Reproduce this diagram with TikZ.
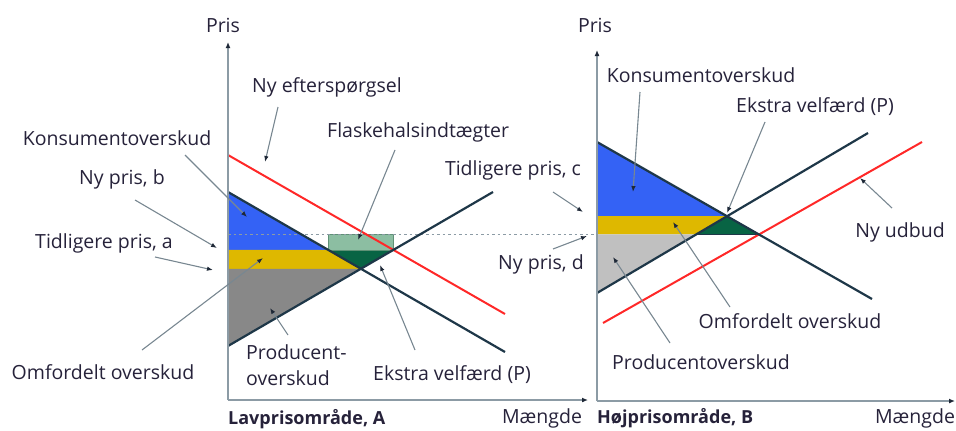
\documentclass[tikz,border=0pt]{standalone}
\usepackage{fontspec}
\setmainfont{Open Sans}
\usetikzlibrary{arrows.meta}
\definecolor{txt}{RGB}{38,34,58}
\definecolor{axisc}{RGB}{140,155,165}
\definecolor{curve}{RGB}{30,55,72}
\definecolor{redc}{RGB}{255,40,40}
\definecolor{bluef}{RGB}{52,98,245}
\definecolor{yellf}{RGB}{222,184,0}
\definecolor{grayL}{RGB}{136,136,136}
\definecolor{grayR}{RGB}{192,192,192}
\definecolor{dgreen}{RGB}{8,100,68}
\definecolor{lgreen}{RGB}{140,190,162}
\definecolor{lgreenb}{RGB}{95,145,118}
\definecolor{ptr}{RGB}{120,135,145}
\definecolor{tipc}{RGB}{30,40,55}
\begin{document}
\begin{tikzpicture}[x=1pt,y=-1pt,
  lbl/.style={text=txt,font=\fontsize{19.5}{26}\selectfont,inner sep=0pt},
  blbl/.style={lbl,font=\fontsize{18}{22}\selectfont\bfseries},
  axisline/.style={draw=axisc,line width=1.5pt,-{Latex[length=6pt,width=5pt,color=tipc]}},
  curveline/.style={draw=curve,line width=2.2pt},
  redline/.style={draw=redc,line width=2pt},
  pointer/.style={draw=ptr,line width=1.1pt,-{Latex[length=6pt,width=4.5pt,color=tipc]}},
  dots/.style={draw=axisc,line width=1.2pt,dash pattern=on 2.5pt off 3pt}]
\useasboundingbox (0,0) rectangle (956,431);
% ---------- left panel geometry
\coordinate (O1) at (228,400);
\coordinate (Y1) at (228,42);
\coordinate (X1) at (588,400);
\coordinate (D1a) at (228,192);
\coordinate (D1b) at (505,352);
\coordinate (S1a) at (228,346);
\coordinate (S1b) at (493,192);
\coordinate (N1a) at (228,155);
\coordinate (N1b) at (505,314);
\coordinate (E1) at (intersection of D1a--D1b and S1a--S1b);
\coordinate (B1) at (intersection of N1a--N1b and S1a--S1b);
\coordinate (Bax) at (O1 |- B1);
\coordinate (Eax) at (O1 |- E1);
\coordinate (DB1) at (intersection of D1a--D1b and Bax--B1);
% ---------- right panel geometry
\coordinate (O2) at (597,401);
\coordinate (Y2) at (597,50);
\coordinate (X2) at (955,401);
\coordinate (D2a) at (597,142);
\coordinate (D2b) at (872,299);
\coordinate (S2a) at (597,293);
\coordinate (S2b) at (868,133);
\coordinate (N2a) at (603,323);
\coordinate (N2b) at (922,142);
\coordinate (E2) at (intersection of D2a--D2b and S2a--S2b);
\coordinate (C2) at (intersection of D2a--D2b and N2a--N2b);
\coordinate (Eax2) at (O2 |- E2);
\coordinate (Cax2) at (O2 |- C2);
\coordinate (SC2) at (intersection of S2a--S2b and Cax2--C2);
\coordinate (Cl) at (O1 |- C2);
% ---------- fills left
\fill[bluef] (D1a) -- (DB1) -- (Bax) -- cycle;
\fill[yellf] (Bax) -- (DB1) -- (E1) -- (Eax) -- cycle;
\fill[grayL] (Eax) -- (E1) -- (S1a) -- cycle;
\filldraw[fill=dgreen,draw=curve,line width=0.8pt] (DB1) -- (B1) -- (E1) -- cycle;
\filldraw[fill=lgreen,draw=lgreenb,line width=0.8pt] (DB1 |- C2) rectangle (B1);
% ---------- fills right
\fill[bluef] (D2a) -- (E2) -- (Eax2) -- cycle;
\fill[yellf] (Eax2) -- (E2) -- (SC2) -- (Cax2) -- cycle;
\fill[grayR] (Cax2) -- (SC2) -- (S2a) -- cycle;
\fill[dgreen] (SC2) -- (E2) -- (C2) -- cycle;
\draw[curve,line width=0.8pt] (SC2) -- (C2);
% ---------- dotted price line
\draw[dots] (Cl) -- (Cax2);
% ---------- curves
\draw[redline] (N1a) -- (N1b);
\draw[curveline] (D1a) -- (D1b);
\draw[curveline] (S1a) -- (S1b);
\draw[redline] (N2a) -- (N2b);
\draw[curveline] (D2a) -- (D2b);
\draw[curveline] (S2a) -- (S2b);
% ---------- axes
\draw[axisline] (O1) -- (Y1);
\draw[axisline] (O1) -- (X1);
\draw[axisline] (O2) -- (Y2);
\draw[axisline] (O2) -- (X2);
% ---------- labels left
\node[lbl] (pris1) at (223,25) {Pris};
\node[lbl] (nyeft) at (327,87) {Ny efterspørgsel};
\node[lbl] (kons1) at (117,138) {Konsumentoverskud};
\node[lbl] (nyb) at (122,179) {Ny pris, b};
\node[lbl] (tida) at (104,243) {Tidligere pris, a};
\node[lbl] (omf1) at (103,372) {Omfordelt overskud};
\node[lbl,anchor=west,align=left] (prod1) at (246,365) {Producent-\\overskud};
\node[lbl,anchor=west] (eks1) at (373,375) {Ekstra velfærd (P)};
\node[lbl,anchor=west] (flask) at (327,132) {Flaskehalsindtægter};
\node[lbl] (tidc) at (513,170) {Tidligere pris, c};
\node[lbl] (nyd) at (541,264) {Ny pris, d};
\node[blbl,anchor=west] (omrA) at (228,419) {Lavprisområde, A};
\node[lbl] (m1) at (542,418) {Mængde};
% ---------- labels right
\node[lbl] (pris2) at (595,25) {Pris};
\node[lbl] (kons2) at (701,75) {Konsumentoverskud};
\node[lbl] (eks2) at (815,107) {Ekstra velfærd (P)};
\node[lbl] (nyud) at (900,232) {Ny udbud};
\node[lbl] (omf2) at (790,321) {Omfordelt overskud};
\node[lbl] (prod2) at (701,362) {Producentoverskud};
\node[blbl,anchor=west] (omrB) at (597,418) {Højprisområde, B};
\node[lbl] (m2) at (915,418) {Mængde};
% ---------- pointer coordinates
\coordinate (pA1) at (278,107); \coordinate (pA2) at (265,162);
\coordinate (pB1) at (185,155); \coordinate (pB2) at (247,217);
\coordinate (pC1) at (135,200); \coordinate (pC2) at (217,248);
\coordinate (pD1) at (155,257); \coordinate (pD2) at (213,270);
\coordinate (pE1) at (142,350); \coordinate (pE2) at (263,258);
\coordinate (pF1) at (288,335); \coordinate (pF2) at (270,308);
\coordinate (pG1) at (415,350); \coordinate (pG2) at (380,265);
\coordinate (pH1) at (395,150); \coordinate (pH2) at (358,240);
\coordinate (pI1) at (553,192); \coordinate (pI2) at (583,212);
\coordinate (pJ1) at (553,249); \coordinate (pJ2) at (587,236);
\coordinate (pK1) at (640,92);  \coordinate (pK2) at (633,192);
\coordinate (pL1) at (765,122); \coordinate (pL2) at (727,213);
\coordinate (pM1) at (892,208); \coordinate (pM2) at (860,178);
\coordinate (pN1) at (730,307); \coordinate (pN2) at (673,222);
\coordinate (pP1) at (670,343); \coordinate (pP2) at (613,257);
\foreach \s/\e in {pA1/pA2,pB1/pB2,pC1/pC2,pD1/pD2,pE1/pE2,pF1/pF2,pG1/pG2,pH1/pH2,pI1/pI2,pJ1/pJ2,pK1/pK2,pL1/pL2,pM1/pM2,pN1/pN2,pP1/pP2}
  \draw[pointer] (\s) -- (\e);
\end{tikzpicture}
\end{document}
